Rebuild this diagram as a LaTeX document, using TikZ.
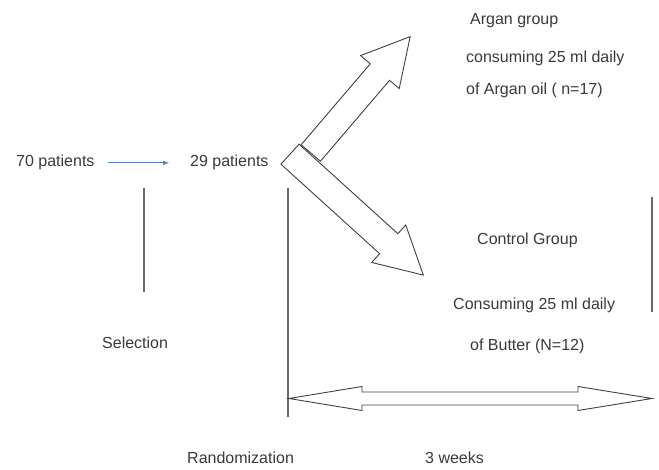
\documentclass[tikz,border=0pt]{standalone}
\usepackage{fontspec}
\setmainfont{Liberation Sans}
\usepackage{xcolor}
\usepackage{tikz}
\usetikzlibrary{arrows, calc}
\definecolor{arrowblue}{HTML}{4F81BD}
\definecolor{linegray}{HTML}{6A6A6A}
\definecolor{edgegray}{HTML}{404040}
\definecolor{textgray}{HTML}{3A3A3A}

\begin{document}
\begin{tikzpicture}[x=1pt, y=1pt, >=latex,
    lbl/.style={anchor=base west, inner sep=0pt, text=textgray, font=\fontsize{16}{19}\selectfont},
    bar/.style={draw=linegray, line width=1.1pt},
    blockarrow/.style={draw=edgegray, line width=0.9pt, fill=white, line join=miter}]
    \useasboundingbox [fill=white] (0,0) rectangle (659,470);

    \node (p70) [lbl] at (16,303) {70 patients};
    \node (p29) [lbl] at (190,303) {29 patients};

    \node (argan1) [lbl] at (470,445) {Argan group};
    \node (argan2) [lbl] at (466,407) {consuming 25 ml daily};
    \node (argan3) [lbl] at (466,375) {of Argan oil ( n=17)};

    \node (ctrl1) [lbl] at (477,225) {Control Group};
    \node (ctrl2) [lbl] at (453,160) {Consuming 25 ml daily};
    \node (ctrl3) [lbl] at (470,119) {of Butter (N=12)};

    \node (sel) [lbl] at (102,121) {Selection};
    \node (rand) [lbl] at (187,6) {Randomization};
    \node (weeks) [lbl] at (425,6) {3 weeks};

    \draw [->, arrowblue, line width=1pt, shorten <=13pt, shorten >=21pt] (p70) -- (p29);

    \coordinate (selTop) at (144,282);
    \coordinate (selBot) at (144,178);
    \coordinate (randTop) at (288,282);
    \coordinate (randBot) at (288,53);
    \coordinate (endTop) at (652,273);
    \coordinate (endBot) at (652,158);
    \draw [bar] (selTop) -- (selBot);
    \draw [bar] (randTop) -- (randBot);
    \draw [bar] (endTop) -- (endBot);

    \coordinate (split) at (290,315.8);
    \coordinate (splitUp) at (310.8,317);

    \begin{scope}[shift={(splitUp)}, rotate=49.5]
        \draw [blockarrow] (0,12.7) -- (106.4,12.7) -- (106.4,25.4) -- (153,0) -- (106.4,-25.4) -- (106.4,-12.7) -- (0,-12.7) -- cycle;
    \end{scope}
    \begin{scope}[shift={(split)}, rotate=-42.2]
        \draw [blockarrow] (0,13.5) -- (133.3,13.5) -- (133.3,25.3) -- (180,0) -- (133.3,-25.3) -- (133.3,-13.5) -- (0,-13.5) -- cycle;
    \end{scope}

    \draw [blockarrow] (289,71.5) -- (362,83.5) -- (362,78) -- (578,78) -- (578,83.5) -- (652,71.5) -- (578,59.5) -- (578,65) -- (362,65) -- (362,59.5) -- cycle;
\end{tikzpicture}
\end{document}
